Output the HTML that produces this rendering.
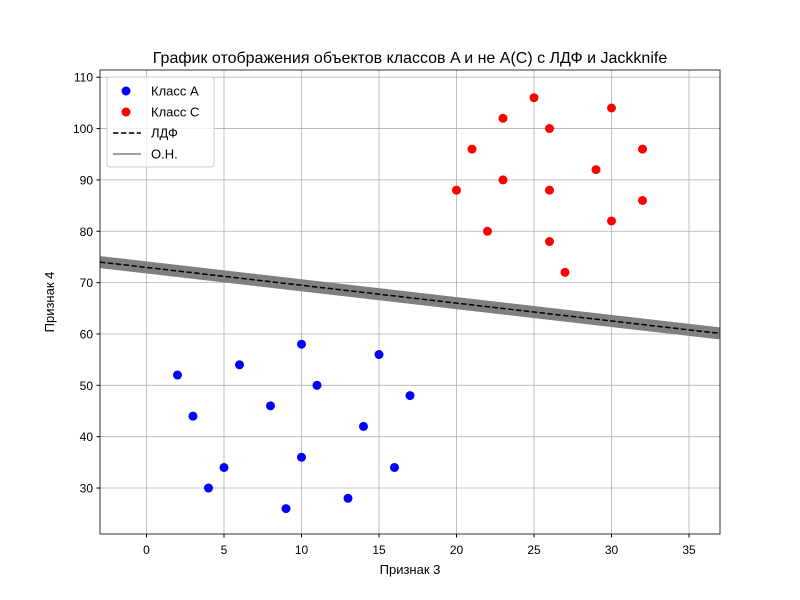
<!DOCTYPE html>
<html><head><meta charset="utf-8"><style>body{margin:0;background:#fff}svg{display:block;font-family:"Liberation Sans","DejaVu Sans",sans-serif}</style></head>
<body>
<svg id="c" width="800" height="600"></svg>
<script>
const classAX=[2,3,4,5,6,8,9,10,10,11,13,14,15,16,17];
const classAY=[52,44,30,34,54,46,26,58,36,50,28,42,56,34,48];
const classCX=[20,21,22,23,23,25,26,26,26,27,29,30,30,32,32];
const classCY=[88,96,80,102,90,106,100,88,78,72,92,104,82,96,86];
const ldfX=[-3,37];
const ldfY=[74,60.1];
const xTicks=[0,5,10,15,20,25,30,35];
const yTicks=[30,40,50,60,70,80,90,100,110];
const L=100,R=720,T=70,B=534,x0=-3,x1=37,y0=21.05,y1=111.4;
const sx=v=>L+(v-x0)/(x1-x0)*(R-L);
const sy=v=>B-(v-y0)/(y1-y0)*(B-T);
const svg=document.getElementById('c');const NS='http://www.w3.org/2000/svg';
function mk(t,a,txt){const e=document.createElementNS(NS,t);for(const k in a)e.setAttribute(k,a[k]);if(txt!=null)e.textContent=txt;svg.appendChild(e);return e;}
xTicks.forEach(v=>{const g=mk('line',{x1:sx(v),x2:sx(v),y1:T,y2:B,stroke:'#b0b0b0','stroke-width':0.8});

const tk=mk('line',{x1:sx(v),x2:sx(v),y1:B,y2:B+3.5,stroke:'#000'});

const t=mk('text',{x:sx(v),y:B+20,'text-anchor':'middle','font-size':12},v);
});
yTicks.forEach(v=>{const g=mk('line',{x1:L,x2:R,y1:sy(v),y2:sy(v),stroke:'#b0b0b0','stroke-width':0.8});

const tk=mk('line',{x1:L-3.5,x2:L,y1:sy(v),y2:sy(v),stroke:'#000'});

const t=mk('text',{x:L-7,y:sy(v)+4.5,'text-anchor':'end','font-size':12},v);
});
const clip=mk('clipPath',{id:'cp'});const cr=document.createElementNS(NS,'rect');cr.setAttribute('x',L);cr.setAttribute('y',T);cr.setAttribute('width',R-L);cr.setAttribute('height',B-T);clip.appendChild(cr);
const band=mk('line',{x1:sx(ldfX[0]),y1:sy(ldfY[0]),x2:sx(ldfX[1]),y2:sy(ldfY[1]),stroke:'#808080','stroke-width':12,'clip-path':'url(#cp)'});

const ld=mk('line',{x1:sx(ldfX[0]),y1:sy(ldfY[0]),x2:sx(ldfX[1]),y2:sy(ldfY[1]),stroke:'#000','stroke-width':1.5,'stroke-dasharray':'5.5,2.4','clip-path':'url(#cp)'});

classAX.forEach((v,i)=>{const c=mk('circle',{cx:sx(v),cy:sy(classAY[i]),r:4.5,fill:'#0000ff'});
});
classCX.forEach((v,i)=>{const c=mk('circle',{cx:sx(v),cy:sy(classCY[i]),r:4.5,fill:'#ff0000'});
});
const fr=mk('rect',{x:L,y:T,width:R-L,height:B-T,fill:'none',stroke:'#000','stroke-width':0.8});

const ti=mk('text',{x:410,y:63,'text-anchor':'middle','font-size':16},'График отображения объектов классов A и не A(C) с ЛДФ и Jackknife');

const xl=mk('text',{x:410,y:574,'text-anchor':'middle','font-size':13},'Признак 3');

const yl=mk('text',{x:54,y:302,'text-anchor':'middle','font-size':13,transform:'rotate(-90 54 302)'},'Признак 4');

const lg=mk('rect',{x:107,y:77,width:107,height:90,rx:3,fill:'#fff','fill-opacity':0.8,stroke:'#ccc'});

const items=[['Класс A','dot','#0000ff'],['Класс C','dot','#ff0000'],['ЛДФ','dash','#000'],['О.Н.','line','#808080']];
items.forEach((it,i)=>{const y=91+i*21;
let m;if(it[1]=='dot')m=mk('circle',{cx:126,cy:y,r:4.5,fill:it[2]});
else m=mk('line',{x1:113,x2:141,y1:y,y2:y,stroke:it[2],'stroke-width':1.5,'stroke-dasharray':it[1]=='dash'?'5.5,2.4':'none'});

const t=mk('text',{x:151,y:y+4.5,'font-size':13},it[0]);
});
</script>
</body></html>
